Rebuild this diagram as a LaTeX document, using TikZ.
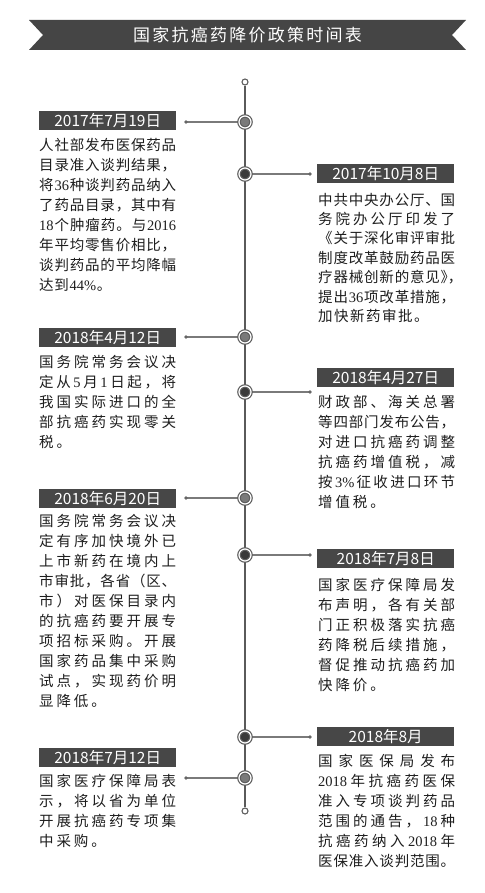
\documentclass[tikz,border=0pt]{standalone}
\usepackage{fontspec}
\setmainfont{Liberation Serif}
\newfontfamily\cjk{Noto Sans CJK SC}
\newfontfamily\cjkh[RawFeature=+halt]{Noto Sans CJK SC}
\pgfdeclarelayer{bg}
\pgfsetlayers{bg,main}
\definecolor{banner}{HTML}{454545}
\definecolor{datebg}{HTML}{474747}
\definecolor{midfill}{HTML}{7A7A7A}
\definecolor{darkfill}{HTML}{3A3A3A}
\definecolor{ring}{HTML}{5E5E5E}
\definecolor{spinec}{HTML}{5A5A5A}
\definecolor{connc}{HTML}{7A7A7A}
\definecolor{dotc}{HTML}{666666}
\definecolor{bodytxt}{HTML}{1E1E1E}
\newlength\lw
\setlength\lw{137pt}
\def\jla#1{#1\jlb}
\def\jlb#1{\ifx\relax#1\else\jlglue#1\expandafter\jlb\fi}
\newcommand\jl[2][\lw]{\makebox[#1][s]{\def\jlglue{\hfil}\jla#2\relax}}
\newcommand\jx[2][0pt]{\hbox{\def\jlglue{\hskip#1}\jla#2\relax}}
\newcommand\Dg[1]{{\rmfamily #1}}
\tikzset{
  datebox/.style={fill=datebg, text=white, font=\cjk\fontsize{15.5}{15.5}\selectfont,
    minimum width=137pt, minimum height=19pt, inner sep=0pt, anchor=north west},
  body/.style={font=\cjk\fontsize{14.5}{#1}\selectfont, text=bodytxt,
    text width=137pt, align=left, inner sep=0pt, anchor=base west},
  body/.default=20,
  evt/.style={circle, minimum size=12pt, inner sep=0pt, draw=ring, line width=1.2pt,
    double=white, double distance=1.2pt},
  evtmid/.style={evt, fill=midfill},
  evtdark/.style={evt, fill=darkfill},
  endpt/.style={circle, minimum size=6pt, inner sep=0pt, draw=ring, line width=1.1pt, fill=white},
  tipdot/.style={circle, minimum size=3.6pt, inner sep=0pt, fill=dotc},
  spine/.style={draw=spinec, line width=1.8pt},
  conn/.style={draw=connc, line width=1.3pt},
  titletext/.style={text=white, font=\cjk\fontsize{17}{17}\selectfont, inner sep=0pt}
}
\begin{document}
\begin{tikzpicture}[x=1pt,y=-1pt]
\useasboundingbox (0,0) rectangle (484,893);
% title banner
\fill[banner] (29,20) -- (466,20) -- (452,35) -- (466,50) -- (29,50) -- (43,35) -- cycle;
\node[titletext] (title) at (247.5,35) {\jl[229pt]{国家抗癌药降价政策时间表}};

% timeline nodes
\node[endpt] (s0) at (245,82) {};
\node[endpt] (s9) at (245,811) {};
\node[evtmid]  (e1) at (245,122) {};
\node[evtdark] (e2) at (245,174) {};
\node[evtmid]  (e3) at (245,337) {};
\node[evtdark] (e4) at (245,392) {};
\node[evtmid]  (e5) at (245,498) {};
\node[evtdark] (e6) at (245,555) {};
\node[evtdark] (e7) at (245,737) {};
\node[evtmid]  (e8) at (245,778) {};
\node[tipdot] (d1) at (186,122) {};
\node[tipdot] (d2) at (310,174) {};
\node[tipdot] (d3) at (186,337) {};
\node[tipdot] (d4) at (310,392) {};
\node[tipdot] (d5) at (186,498) {};
\node[tipdot] (d6) at (310,555) {};
\node[tipdot] (d7) at (310,737) {};
\node[tipdot] (d8) at (186,778) {};

\begin{pgfonlayer}{bg}
\fill[white] (0,0) rectangle (484,893);
\draw[spine] (s0) -- (s9);
\foreach \i in {1,...,8} {\draw[conn] (d\i.center) -- (e\i.center);}
\end{pgfonlayer}

% date labels
\node[datebox] (t1) at (39,111)  {2017年7月19日};
\node[datebox] (t2) at (317,164) {2017年10月8日};
\node[datebox] (t3) at (39,328)  {2018年4月12日};
\node[datebox] (t4) at (317,368) {2018年4月27日};
\node[datebox] (t5) at (39,489)  {2018年6月20日};
\node[datebox] (t6) at (317,549) {2018年7月8日};
\node[datebox] (t7) at (39,748)  {2018年7月12日};
\node[datebox] (t8) at (317,727) {2018年8月};

% texts
\node[body] (b1) at (39,150.7) {%
\jl{人社部发布医保药品}\\
\jl{目录准入谈判结果，}\\
\jl{将{\Dg{36}}种谈判药品纳入}\\
\jl{了药品目录，其中有}\\
\jl{{\Dg{18}}个肿瘤药。与{\Dg{2016}}}\\
\jl{年平均零售价相比，}\\
\jl{谈判药品的平均降幅}\\
\jx[0.7pt]{达到{\Dg{44\%}}。}};

\node[body=19.4] (b2) at (318,205.2) {%
\jl{中共中央办公厅、国}\\
\jl{务院办公厅印发了}\\
\jl{《关于深化审评审批}\\
\jl{制度改革鼓励药品医}\\
\jl{疗器械创新的意见{{\cjkh 》，}}}\\
\jl{提出{\Dg{36}}项改革措施，}\\
\jx[1.5pt]{加快新药审批。}};

\node[body=19.8] (b3) at (39,367.9) {%
\jl{国务院常务会议决}\\
\jl{定从{\Dg{5}}月{\Dg{1}}日起，将}\\
\jl{我国实际进口的全}\\
\jl{部抗癌药实现零关}\\
\jx[2.9pt]{税。}};

\node[body=19.9] (b4) at (318,407.9) {%
\jl{财政部、海关总署}\\
\jl{等四部门发布公告，}\\
\jl{对进口抗癌药调整}\\
\jl{抗癌药增值税，减}\\
\jl{按{\Dg{3\%}}征收进口环节}\\
\jx[2.9pt]{增值税。}};

\node[body] (b5) at (39,526.9) {%
\jl{国务院常务会议决}\\
\jl{定有序加快境外已}\\
\jl{上市新药在境内上}\\
\jl{市审批，各省（区、}\\
\jl{市）对医保目录内}\\
\jl{的抗癌药要开展专}\\
\jl{项招标采购。开展}\\
\jl{国家药品集中采购}\\
\jl{试点，实现药价明}\\
\jx[2.9pt]{显降低。}};

\node[body] (b6) at (318,590.2) {%
\jl{国家医疗保障局发}\\
\jl{布声明，各有关部}\\
\jl{门正积极落实抗癌}\\
\jl{药降税后续措施，}\\
\jl{督促推动抗癌药加}\\
\jx[2.9pt]{快降价。}};

\node[body] (b7) at (39,786.2) {%
\jl{国家医疗保障局表}\\
\jl{示，将以省为单位}\\
\jl{开展抗癌药专项集}\\
\jx[2.9pt]{中采购。}};

\node[body] (b8) at (318,766.9) {%
\jl{国家医保局发布}\\
\jl{{\Dg{2018}}年抗癌药医保}\\
\jl{准入专项谈判药品}\\
\jl{范围的通告，{\Dg{18}}种}\\
\jl{抗癌药纳入{\Dg{2018}}年}\\
\jl{医保准入谈判范围。}};
\end{tikzpicture}
\end{document}
